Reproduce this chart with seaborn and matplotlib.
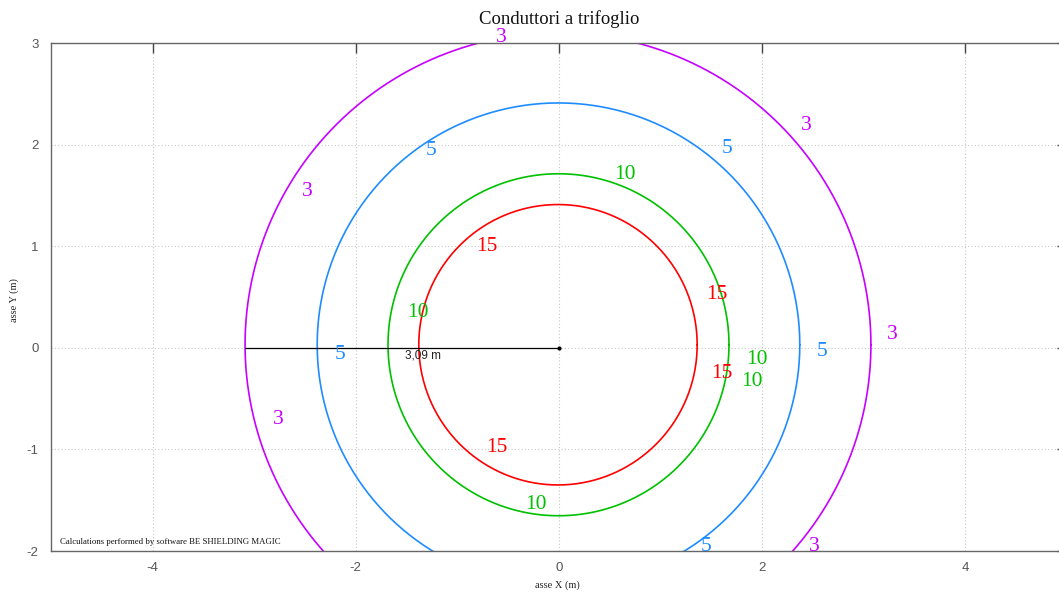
import numpy as np
import pandas as pd
import matplotlib
matplotlib.use("Agg")
import matplotlib.pyplot as plt
import seaborn as sns

# Iso-field contour levels (µT) and their ring geometry (m)
levels = [3, 5, 10, 15]
radius_x = [3.08, 2.375, 1.678, 1.37]
radius_y = [3.07, 2.38, 1.683, 1.38]
center_x = [-0.01, -0.005, -0.005, -0.01]
center_y = [0.03, 0.03, 0.03, 0.03]
colors = ["#c800ff", "#1e8cff", "#00c000", "#ff0000"]

# Inline contour labels (x, y) per level
label_pos = {
    3: [(-0.57, 3.05), (2.43, 2.19), (-2.48, 1.54), (3.28, 0.13), (-2.76, -0.71), (2.51, -1.96)],
    5: [(-1.26, 1.94), (1.65, 1.96), (-2.15, -0.07), (2.59, -0.04), (1.45, -1.96)],
    10: [(0.65, 1.71), (-1.39, 0.35), (1.95, -0.12), (1.90, -0.33), (-0.23, -1.54)],
    15: [(-0.71, 1.00), (1.55, 0.52), (1.60, -0.25), (-0.61, -0.98)],
}

# Distance marker
dist_value = 3.09
dist_label = "3,09 m"

x_ticks = [-4, -2, 0, 2, 4]
y_ticks = [-2, -1, 0, 1, 2, 3]

# Build long-form ring outlines
theta = np.linspace(0, 2 * np.pi, 721)
frames = []
for lvl, rx, ry, cx, cy in zip(levels, radius_x, radius_y, center_x, center_y):
    frames.append(pd.DataFrame({
        "x": cx + rx * np.cos(theta),
        "y": cy + ry * np.sin(theta),
        "level": str(lvl),
    }))
rings = pd.concat(frames, ignore_index=True)

sns.set_style("white")
plt.rcParams["font.family"] = ["Liberation Sans", "DejaVu Sans"]
plt.rcParams["axes.unicode_minus"] = False

fig = plt.figure(figsize=(10.59, 5.93), dpi=100)
ax = fig.add_axes([51 / 1059, 42 / 593, 1016 / 1059, 508 / 593])

sns.lineplot(data=rings, x="x", y="y", hue="level", units="level", estimator=None,
             sort=False, palette=dict(zip([str(l) for l in levels], colors)),
             linewidth=1.2, legend=False, ax=ax)

for lvl, col in zip(levels, colors):
    for (lx, ly) in label_pos[lvl]:
        ax.text(lx, ly, str(lvl), color=col, fontsize=15.5, ha="center", va="center",
                family="Liberation Serif", clip_on=False)

ax.plot([-dist_value, 0], [0, 0], color="black", linewidth=0.9)
ax.plot([0], [0], marker="o", color="black", markersize=2)
ax.text(-1.52, -0.08, dist_label, fontsize=8.5, ha="left", va="center", color="#222222")

ax.set_xlim(-5, 5)
ax.set_ylim(-2, 3)
ax.set_xticks(x_ticks)
ax.set_yticks(y_ticks)
ax.set_xlabel("")
ax.set_ylabel("")
ax.grid(True, linestyle=(0, (1, 2)), color="#c8c8c8", linewidth=0.8)
ax.tick_params(direction="in", length=7, width=1, color="#444444",
               labelcolor="#555555", labelsize=9.5, top=True, right=True)
ax.tick_params(axis="x", pad=8)
ax.tick_params(axis="y", pad=9)
for sp in ax.spines.values():
    sp.set_color("#666666")
    sp.set_linewidth(1)

ax.text(0.009, 0.018, "Calculations performed by software BE SHIELDING MAGIC",
        transform=ax.transAxes, fontsize=6.3, family="Liberation Serif",
        ha="left", va="center", color="#111111")

fig.text(559 / 1059, 1 - 19 / 593, "Conduttori a trifoglio", ha="center", va="center",
         fontsize=13.5, family="Liberation Serif", color="#111111")
fig.text(557 / 1059, 1 - 585 / 593, "asse X (m)", ha="center", va="center",
         fontsize=7.5, family="Liberation Serif", color="#222222")
fig.text(14 / 1059, 1 - 300 / 593, "asse Y (m)", ha="center", va="center", rotation=90,
         fontsize=7.5, family="Liberation Serif", color="#222222")

fig.savefig("out.png", dpi=100)
